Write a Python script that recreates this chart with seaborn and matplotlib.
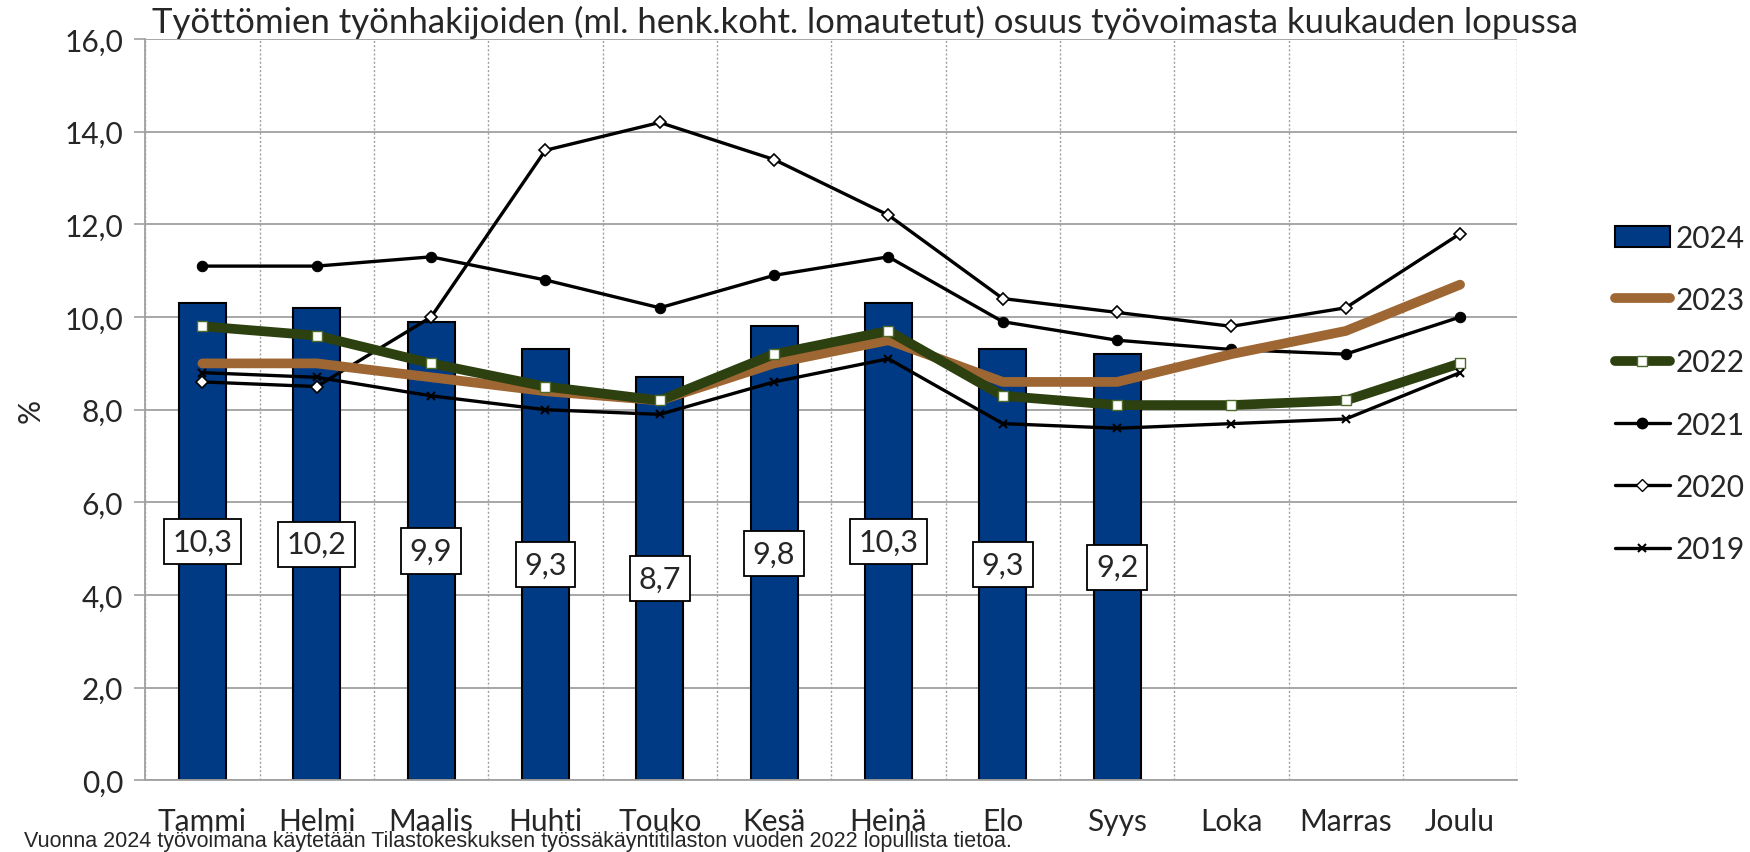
import numpy as np
import pandas as pd
import seaborn as sns
import matplotlib.pyplot as plt
from matplotlib.lines import Line2D
from matplotlib.patches import Patch

# Kuukaudet ja arvot (%)
kuukaudet = ['Tammi', 'Helmi', 'Maalis', 'Huhti', 'Touko', 'Kesä',
             'Heinä', 'Elo', 'Syys', 'Loka', 'Marras', 'Joulu']
v2024 = [10.3, 10.2, 9.9, 9.3, 8.7, 9.8, 10.3, 9.3, 9.2]
v2023 = [9.0, 9.0, 8.7, 8.4, 8.2, 9.0, 9.5, 8.6, 8.6, 9.2, 9.7, 10.7]
v2022 = [9.8, 9.6, 9.0, 8.5, 8.2, 9.2, 9.7, 8.3, 8.1, 8.1, 8.2, 9.0]
v2021 = [11.1, 11.1, 11.3, 10.8, 10.2, 10.9, 11.3, 9.9, 9.5, 9.3, 9.2, 10.0]
v2020 = [8.6, 8.5, 10.0, 13.6, 14.2, 13.4, 12.2, 10.4, 10.1, 9.8, 10.2, 11.8]
v2019 = [8.8, 8.7, 8.3, 8.0, 7.9, 8.6, 9.1, 7.7, 7.6, 7.7, 7.8, 8.8]

sininen = '#003A84'
ruskea = '#9E6632'
vihrea = '#2D4010'

sns.set_theme(style='white')
plt.rcParams['font.family'] = ['Lato', 'DejaVu Sans']

fig = plt.figure(figsize=(17.5, 8.53), dpi=100)
ax = fig.add_axes([0.083, 0.084, 0.784, 0.869])

df24 = pd.DataFrame({'kk': kuukaudet[:len(v2024)], 'arvo': v2024})
sns.barplot(data=df24, x='kk', y='arvo', order=kuukaudet, color=sininen,
            saturation=1, width=0.41, edgecolor='black', linewidth=1.5,
            ax=ax, zorder=2)

x = np.arange(len(kuukaudet))
sns.lineplot(x=x, y=v2021, color='black', lw=2.4, marker='o', ms=7.5,
             mec='black', mfc='black', ax=ax, zorder=3)
sns.lineplot(x=x, y=v2020, color='black', lw=2.4, marker='D', ms=6.5,
             mec='black', mfc='white', mew=1.2, ax=ax, zorder=3)
sns.lineplot(x=x, y=v2023, color=ruskea, lw=7, ax=ax, zorder=4)
sns.lineplot(x=x, y=v2022, color=vihrea, lw=7, marker='s', ms=7,
             mec='#4E6A2A', mfc='white', mew=1, ax=ax, zorder=5)
sns.lineplot(x=x, y=v2019, color='black', lw=2.4, marker='x', ms=6,
             mec='black', mew=1.5, ax=ax, zorder=6)

# arvolaatikot pylväiden keskelle
for i, v in enumerate(v2024):
    ax.text(i, v / 2, f'{v:.1f}'.replace('.', ','), ha='center', va='center',
            fontsize=22, zorder=7,
            bbox=dict(boxstyle='square,pad=0.28', fc='white', ec='black', lw=1.3))

ax.set_xlim(-0.5, 11.5)
ax.set_ylim(0, 16)
ax.set_yticks(np.arange(0, 16.1, 2))
ax.set_yticklabels([f'{t:.1f}'.replace('.', ',') for t in np.arange(0, 16.1, 2)])
ax.set_xticks(x)
ax.set_xticklabels(kuukaudet)
ax.set_xticks(np.arange(-0.5, 11.6, 1), minor=True)
ax.tick_params(axis='x', which='major', length=0, pad=19, labelsize=21.5)
ax.tick_params(axis='x', which='minor', length=8, color='#A0A0A0', width=1.2)
ax.tick_params(axis='y', length=8, color='#A0A0A0', width=1.2, labelsize=21.5,
               left=True, pad=8)
ax.set_xlabel('')
ax.set_ylabel('%', fontsize=21.5, labelpad=14)

ax.grid(axis='y', color='#A0A0A0', lw=1.3, zorder=0)
ax.grid(axis='x', which='minor', color='#A0A0A0', lw=1, ls=(0, (1.5, 1.5)), zorder=0)
ax.set_axisbelow(True)
for s in ['top', 'right']:
    ax.spines[s].set_visible(False)
ax.spines['left'].set_color('#A0A0A0')
ax.spines['bottom'].set_color('#A0A0A0')
ax.spines['left'].set_linewidth(1.3)
ax.spines['bottom'].set_linewidth(1.3)

ax.set_title('Työttömien työnhakijoiden (ml. henk.koht. lomautetut) osuus työvoimasta kuukauden lopussa',
             fontsize=25, loc='left', x=0.005, pad=5)

kahvat = [
    Patch(facecolor=sininen, edgecolor='black', lw=1.5, label='2024'),
    Line2D([], [], color=ruskea, lw=7, label='2023'),
    Line2D([], [], color=vihrea, lw=7, marker='s', ms=7, mec='#4E6A2A', mfc='white', label='2022'),
    Line2D([], [], color='black', lw=2.4, marker='o', ms=7.5, label='2021'),
    Line2D([], [], color='black', lw=2.4, marker='D', ms=6.5, mfc='white', label='2020'),
    Line2D([], [], color='black', lw=2.4, marker='x', ms=6, mew=1.5, label='2019'),
]
ax.legend(handles=kahvat, loc='center left', bbox_to_anchor=(1.071, 0.522),
          frameon=False, fontsize=21.5, handlelength=1.85, handletextpad=0.2,
          labelspacing=1.15, borderaxespad=0, borderpad=0)

fig.text(0.014, 0.014, 'Vuonna 2024 työvoimana käytetään Tilastokeskuksen työssäkäyntitilaston vuoden 2022 lopullista tietoa.',
         fontsize=15.5, va='center',
         family=['Liberation Sans Narrow', 'Liberation Sans', 'DejaVu Sans'])

fig.savefig('out.png', dpi=100)
